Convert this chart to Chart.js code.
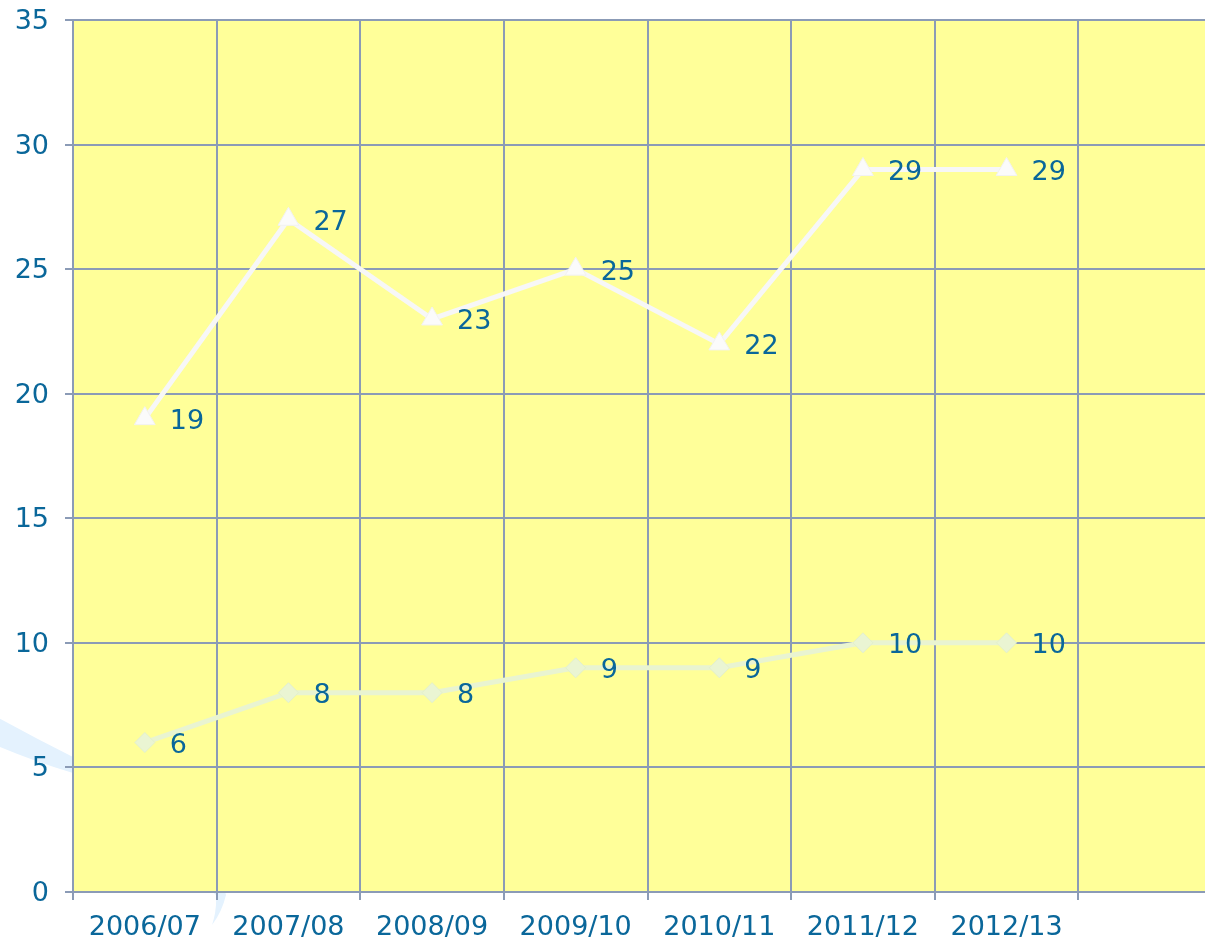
<!DOCTYPE html>
<html>
<head>
<meta charset="utf-8">
<script src="https://cdn.jsdelivr.net/npm/chart.js@4/dist/chart.umd.min.js"></script>
<style>
  html, body { margin: 0; padding: 0; overflow: hidden; background: #ffffff; }
  canvas { display: block; }
</style>
</head>
<body>
<canvas id="c" width="1222" height="945" style="width:1222px;height:945px"></canvas>
<script>
const categories = ['2006/07', '2007/08', '2008/09', '2009/10', '2010/11', '2011/12', '2012/13', ''];
const seriesUpper = [19, 27, 23, 25, 22, 29, 29];
const seriesLower = [6, 8, 8, 9, 9, 10, 10];
const yTicks = [0, 5, 10, 15, 20, 25, 30, 35];

const textColor = '#0a679a';
const gridColor = '#8b9bb6';
const fontFamily = "'DejaVu Sans', Verdana, sans-serif";

const bgPlugin = {
  id: 'bg',
  beforeDraw(chart) {
    const ctx = chart.ctx;
    const a = chart.chartArea;
    ctx.save();
    ctx.fillStyle = '#ffffff';
    ctx.fillRect(0, 0, chart.width, chart.height);
    // decorative swoosh
    ctx.fillStyle = '#e4f2fe';
    ctx.beginPath();
    ctx.moveTo(-5, 716);
    ctx.quadraticCurveTo(35, 738, 73, 757);
    ctx.bezierCurveTo(150, 800, 215, 840, 226, 895);
    ctx.quadraticCurveTo(222, 912, 212, 925);
    ctx.quadraticCurveTo(217, 910, 216, 895);
    ctx.lineTo(90, 780);
    ctx.lineTo(73, 773);
    ctx.quadraticCurveTo(35, 762, -5, 745);
    ctx.closePath();
    ctx.fill();
    // plot area fill
    ctx.fillStyle = '#ffff99';
    ctx.fillRect(a.left, a.top, a.right - a.left, a.bottom - a.top);
    ctx.restore();
  }
};

const labelPlugin = {
  id: 'vals',
  afterDatasetsDraw(chart) {
    const ctx = chart.ctx;
    ctx.save();
    ctx.font = '27px ' + fontFamily;
    ctx.fillStyle = textColor;
    ctx.textAlign = 'left';
    ctx.textBaseline = 'middle';
    chart.data.datasets.forEach((ds, i) => {
      const meta = chart.getDatasetMeta(i);
      meta.data.forEach((pt, j) => {
        ctx.fillText(String(ds.data[j]), pt.x + 25, pt.y + 3.5);
      });
    });
    ctx.restore();
  }
};

new Chart(document.getElementById('c'), {
  type: 'line',
  data: {
    labels: categories,
    datasets: [
      {
        label: 'Lower',
        data: seriesLower,
        borderColor: '#e9f4d1',
        backgroundColor: '#eaf5d3',
        borderWidth: 5,
        pointStyle: 'rectRot',
        pointRadius: 10,
        pointBorderWidth: 1,
        pointBorderColor: '#e3f0cc',
        pointBackgroundColor: '#eaf5d3',
        tension: 0
      },
      {
        label: 'Upper',
        data: seriesUpper,
        borderColor: '#f7f7f7',
        backgroundColor: '#fbfbfb',
        borderWidth: 5,
        pointStyle: 'triangle',
        pointRadius: 12,
        pointBorderWidth: 1,
        pointBorderColor: '#f2f2f2',
        pointBackgroundColor: '#fbfbfb',
        tension: 0
      }
    ]
  },
  options: {
    responsive: false,
    maintainAspectRatio: false,
    animation: false,
    devicePixelRatio: 1,
    layout: { autoPadding: false, padding: { top: 20, left: 0, right: 0, bottom: 0 } },
    plugins: {
      legend: { display: false },
      tooltip: { enabled: false },
      title: { display: false }
    },
    scales: {
      x: {
        type: 'category',
        offset: true,
        grid: {
          offset: true,
          color: gridColor,
          lineWidth: 2,
          drawTicks: true,
          tickLength: 8,
          tickColor: gridColor
        },
        border: { color: gridColor, width: 2 },
        ticks: {
          color: textColor,
          font: { family: fontFamily, size: 27 },
          padding: 12,
          maxRotation: 0,
          autoSkip: false
        },
        afterFit(scale) {
          scale.height = 53;
          scale.paddingLeft = 0; scale.paddingRight = 0;
        }
      },
      y: {
        min: 0,
        max: 35,
        afterBuildTicks(scale) { scale.ticks = yTicks.map(v => ({ value: v })); },
        grid: {
          color: gridColor,
          lineWidth: 2,
          drawTicks: true,
          tickLength: 8,
          tickColor: gridColor
        },
        border: { color: gridColor, width: 2 },
        ticks: {
          color: textColor,
          font: { family: fontFamily, size: 27 },
          padding: 16,
          labelOffset: 2
        },
        afterFit(scale) {
          scale.width = 73;
          scale.paddingTop = 0; scale.paddingBottom = 0;
        }
      }
    }
  },
  plugins: [bgPlugin, labelPlugin]
});
</script>
</body>
</html>
